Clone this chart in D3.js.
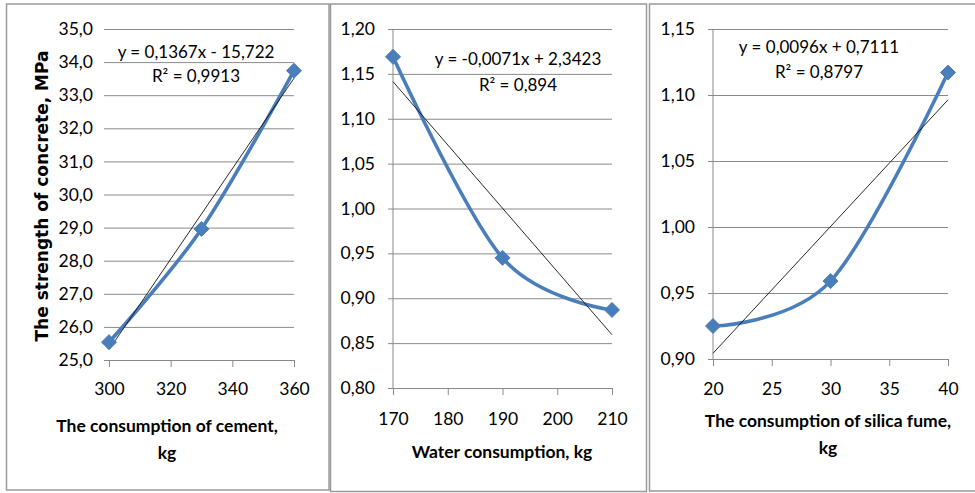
<!DOCTYPE html>
<html>
<head>
<meta charset="utf-8">
<script src="https://cdn.jsdelivr.net/npm/d3@7"></script>
<style>
  body { margin: 0; background: #fff; }
  svg { display: block; }
  text { font-family: Lato, "Open Sans", sans-serif; fill: #000; }
</style>
</head>
<body>
<div id="container"></div>
<script>
const WIDTH = 975;
const HEIGHT = 493;

// panel 1: cement
const cementX = [300, 330, 360];
const cementStrength = [25.54, 28.96, 33.74];
const cementTicksX = [300, 320, 340, 360];
const cementTicksY = [25, 26, 27, 28, 29, 30, 31, 32, 33, 34, 35];
const cementEquation = ["y = 0,1367x - 15,722", "R² = 0,9913"];
const cementTitle = ["The consumption of cement,", "kg"];

// panel 2: water
const waterX = [170, 190, 210];
const waterStrength = [1.169, 0.945, 0.887];
const waterTicksX = [170, 180, 190, 200, 210];
const waterTicksY = [0.80, 0.85, 0.90, 0.95, 1.00, 1.05, 1.10, 1.15, 1.20];
const waterEquation = ["y = -0,0071x + 2,3423", "R² = 0,894"];
const waterTitle = ["Water consumption, kg"];

// panel 3: silica fume
const silicaX = [20, 30, 40];
const silicaStrength = [0.925, 0.959, 1.117];
const silicaTicksX = [20, 25, 30, 35, 40];
const silicaTicksY = [0.90, 0.95, 1.00, 1.05, 1.10, 1.15];
const silicaEquation = ["y = 0,0096x + 0,7111", "R² = 0,8797"];
const silicaTitle = ["The consumption of silica fume,", "kg"];

const yTitle = "The strength of concrete, MPa";

const BLUE = "#4a7ebb";
const GRID = "#8a8a8a";

var panels = [
    {xs: cementX, ys: cementStrength, ticksX: cementTicksX, ticksY: cementTicksY, yDigits: 1,
     eq: cementEquation, title: cementTitle,
     box: [6.5, 4, 329, 490], plot: [109, 294, 29, 360], yAxisLine: false, yPad: 11,
     eqPos: [196, 58, 82], titlePos: [167, 432, 459], xPad: 16},
    {xs: waterX, ys: waterStrength, ticksX: waterTicksX, ticksY: waterTicksY, yDigits: 2,
     eq: waterEquation, title: waterTitle,
     box: [330.5, 4, 646.5, 491.5], plot: [393, 612, 29, 388], yAxisLine: true, yPad: 13,
     eqPos: [518, 65, 91], titlePos: [502, 458], xPad: 18},
    {xs: silicaX, ys: silicaStrength, ticksX: silicaTicksX, ticksY: silicaTicksY, yDigits: 2,
     eq: silicaEquation, title: silicaTitle,
     box: [649.5, 4, 990, 491], plot: [713, 948, 29, 359], yAxisLine: true, yPad: 13,
     eqPos: [819, 53, 78], titlePos: [828, 427, 454], xPad: 17}
];

var fmtComma = function (v, digits) {
    return v.toFixed(digits).replace(".", ",");
};

var drawPanel = function (svg, p) {
    var g = svg.append("g");

    g.append("rect")
        .attr("x", p.box[0]).attr("y", p.box[1])
        .attr("width", p.box[2] - p.box[0]).attr("height", p.box[3] - p.box[1])
        .attr("fill", "#fff").attr("stroke", "#9a9a9a").attr("stroke-width", 1.5);

    var xScale = d3.scaleLinear()
        .domain(d3.extent(p.ticksX))
        .range([p.plot[0], p.plot[1]]);
    var yScale = d3.scaleLinear()
        .domain(d3.extent(p.ticksY))
        .range([p.plot[3], p.plot[2]]);

    // horizontal gridlines + y labels (gridlines stick out 5px left of the axis)
    var yAxis = d3.axisLeft(yScale)
        .tickValues(p.ticksY)
        .tickSize(-(p.plot[1] - p.plot[0] + 5))
        .tickPadding(p.yPad)
        .tickFormat(function (d) { return fmtComma(d, p.yDigits); });
    var ya = g.append("g")
        .attr("transform", "translate(" + (p.plot[0] - 5) + ",0)")
        .call(yAxis);
    ya.select(".domain").remove();
    ya.selectAll("line").attr("stroke", GRID);
    ya.selectAll("text")
        .style("font-family", "Lato, sans-serif")
        .style("font-size", "17.5px")
        .attr("fill", "#000");

    if (p.yAxisLine) {
        g.append("line")
            .attr("x1", p.plot[0]).attr("x2", p.plot[0])
            .attr("y1", p.plot[2]).attr("y2", p.plot[3])
            .attr("stroke", GRID);
    }

    // x axis
    var xAxis = d3.axisBottom(xScale)
        .tickValues(p.ticksX)
        .tickSize(7)
        .tickSizeOuter(0)
        .tickPadding(p.xPad)
        .tickFormat(d3.format("d"));
    var xa = g.append("g")
        .attr("transform", "translate(0," + p.plot[3] + ")")
        .call(xAxis);
    xa.selectAll("line, .domain").attr("stroke", GRID);
    xa.selectAll("text")
        .style("font-family", "Lato, sans-serif")
        .style("font-size", "17.5px")
        .attr("fill", "#000");

    var pts = p.xs.map(function (x, i) { return {x: x, y: p.ys[i]}; });

    // linear trendline (least squares)
    var mx = d3.mean(p.xs), my = d3.mean(p.ys);
    var slope = d3.sum(pts, function (d) { return (d.x - mx) * (d.y - my); }) /
        d3.sum(pts, function (d) { return (d.x - mx) * (d.x - mx); });
    var icpt = my - slope * mx;
    var ends = d3.extent(p.xs);

    // smoothed series line
    var line = d3.line()
        .x(function (d) { return xScale(d.x); })
        .y(function (d) { return yScale(d.y); })
        .curve(d3.curveCardinal.tension(0));

    g.append("path")
        .attr("d", line(pts))
        .attr("fill", "none")
        .attr("stroke", BLUE)
        .attr("stroke-width", 3.6)
        .attr("stroke-linecap", "round");

    g.append("line")
        .attr("x1", xScale(ends[0])).attr("y1", yScale(slope * ends[0] + icpt))
        .attr("x2", xScale(ends[1])).attr("y2", yScale(slope * ends[1] + icpt))
        .attr("stroke", "#111")
        .attr("stroke-width", 0.9);

    g.selectAll(".marker").data(pts)
        .enter()
        .append("path")
        .attr("class", "marker")
        .attr("d", "M0,-7.5L7.5,0L0,7.5L-7.5,0Z")
        .attr("transform", function (d) {
            return "translate(" + xScale(d.x) + "," + yScale(d.y) + ")";
        })
        .attr("fill", BLUE)
        .attr("stroke", BLUE)
        .attr("stroke-width", 1);

    // equation label
    g.selectAll(".eq").data(p.eq)
        .enter()
        .append("text")
        .attr("class", "eq")
        .attr("x", p.eqPos[0])
        .attr("y", function (d, i) { return p.eqPos[i + 1]; })
        .attr("text-anchor", "middle")
        .style("font-size", "17px")
        .text(function (d) { return d; });

    // axis title
    g.selectAll(".xtitle").data(p.title)
        .enter()
        .append("text")
        .attr("class", "xtitle")
        .attr("x", p.titlePos[0])
        .attr("y", function (d, i) { return p.titlePos[i + 1]; })
        .attr("text-anchor", "middle")
        .style("font-size", "17.5px")
        .style("font-weight", "bold")
        .text(function (d) { return d; });
};

var createChart = function () {
    var svg = d3.select("#container")
        .append("svg")
        .attr("width", WIDTH)
        .attr("height", HEIGHT);

    for (var i = 0; i < panels.length; i++) {
        drawPanel(svg, panels[i]);
    }

    svg.append("text")
        .attr("transform", "translate(48,196) rotate(-90)")
        .attr("text-anchor", "middle")
        .style("font-family", "'DejaVu Sans', sans-serif")
        .style("font-size", "17px")
        .style("font-weight", "bold")
        .text(yTitle);
};

window.onload = createChart;
</script>
</body>
</html>
